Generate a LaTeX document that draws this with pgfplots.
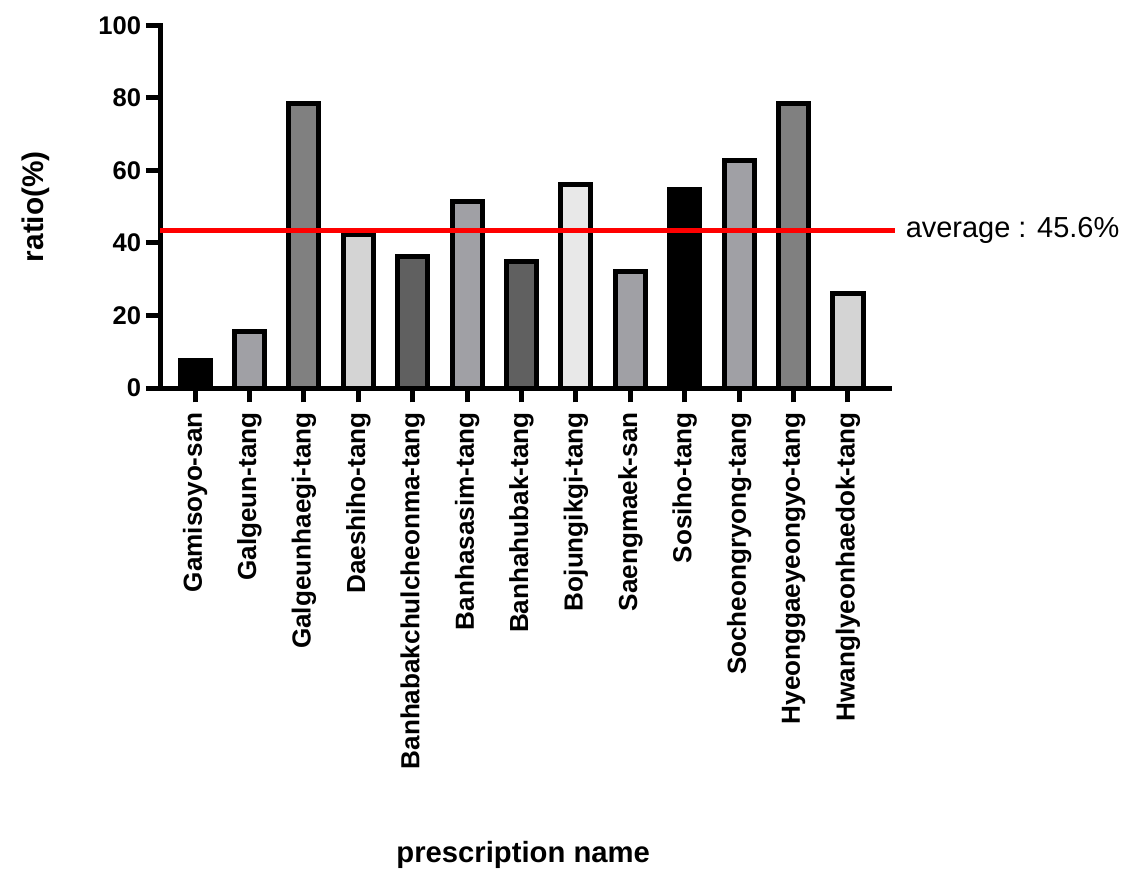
\documentclass[border=0pt]{standalone}
\usepackage{fontspec}
\setmainfont{Liberation Sans}
\usepackage{pgfplots}
\pgfplotsset{compat=1.18}

\definecolor{gA}{RGB}{160,160,165}
\definecolor{gB}{RGB}{128,128,128}
\definecolor{gC}{RGB}{212,212,212}
\definecolor{gD}{RGB}{96,96,96}
\definecolor{gE}{RGB}{232,232,232}

\begin{document}
\begin{tikzpicture}
\begin{axis}[
  at={(0,0)}, anchor=south west,
  scale only axis,
  width=256.8pt, height=127.8pt,
  axis lines*=left,
  axis line style={line width=1.76pt, line cap=rect},
  ybar, bar shift=0pt, bar width=10.6pt,
  xmin=-0.643, xmax=12.757,
  ymin=0, ymax=100,
  ytick={0,20,40,60,80,100},
  xtick={0,...,12},
  xticklabels={Gamisoyo-san, Galgeun-tang, Galgeunhaegi-tang, Daeshiho-tang,
    Banhabakchulcheonma-tang, Banhasasim-tang, Banhahubak-tang, Bojungikgi-tang,
    Saengmaek-san, Sosiho-tang, Socheongryong-tang, Hyeonggaeyeongyo-tang,
    Hwanglyeonhaedok-tang},
  tick align=outside,
  major tick length=5pt,
  major tick style={line width=1.76pt, black},
  /pgf/number format/assume math mode=true,
  yticklabel style={font=\fontsize{9}{10}\selectfont\bfseries, xshift=1.8pt},
  xticklabel style={rotate=90, anchor=east, font=\fontsize{9.2}{11}\selectfont\bfseries},
  xlabel={prescription name},
  ylabel={ratio(\%)},
  every axis x label/.style={at={(axis description cs:0.498,-1.287)}, anchor=center, font=\fontsize{10.3}{12}\selectfont\bfseries},
  every axis y label/.style={at={(axis description cs:-0.17,0.5)}, rotate=90, anchor=center, font=\fontsize{10.5}{12}\selectfont\bfseries},
  clip=false,
  every axis plot/.append style={draw=black, line width=1.76pt},
]
\coordinate (o) at (rel axis cs:0,0);
\addplot[fill=black] coordinates {(0,7.7)};
\addplot[fill=gA] coordinates {(1,15.5)};
\addplot[fill=gB] coordinates {(2,78.5)};
\addplot[fill=gC] coordinates {(3,42.2)};
\addplot[fill=gD] coordinates {(4,36.4)};
\addplot[fill=gA] coordinates {(5,51.4)};
\addplot[fill=gD] coordinates {(6,34.9)};
\addplot[fill=gE] coordinates {(7,56.0)};
\addplot[fill=gA] coordinates {(8,32.0)};
\addplot[fill=black] coordinates {(9,54.6)};
\addplot[fill=gA] coordinates {(10,62.8)};
\addplot[fill=gB] coordinates {(11,78.5)};
\addplot[fill=gC] coordinates {(12,26.0)};
\addplot[sharp plot, draw=red, line width=1.76pt] coordinates {(-0.643,43.5) (12.87,43.5)};
\node[anchor=west, font=\fontsize{10.2}{12}\selectfont, inner sep=0pt] at (axis cs:12.87,43.5) {\hspace{3.5pt}average : 45.6\%};
\end{axis}
\pgfresetboundingbox
\path[shift={(o)}] (-56.4pt,-177.2pt) rectangle (343.4pt,136.7pt);
\end{tikzpicture}
\end{document}
